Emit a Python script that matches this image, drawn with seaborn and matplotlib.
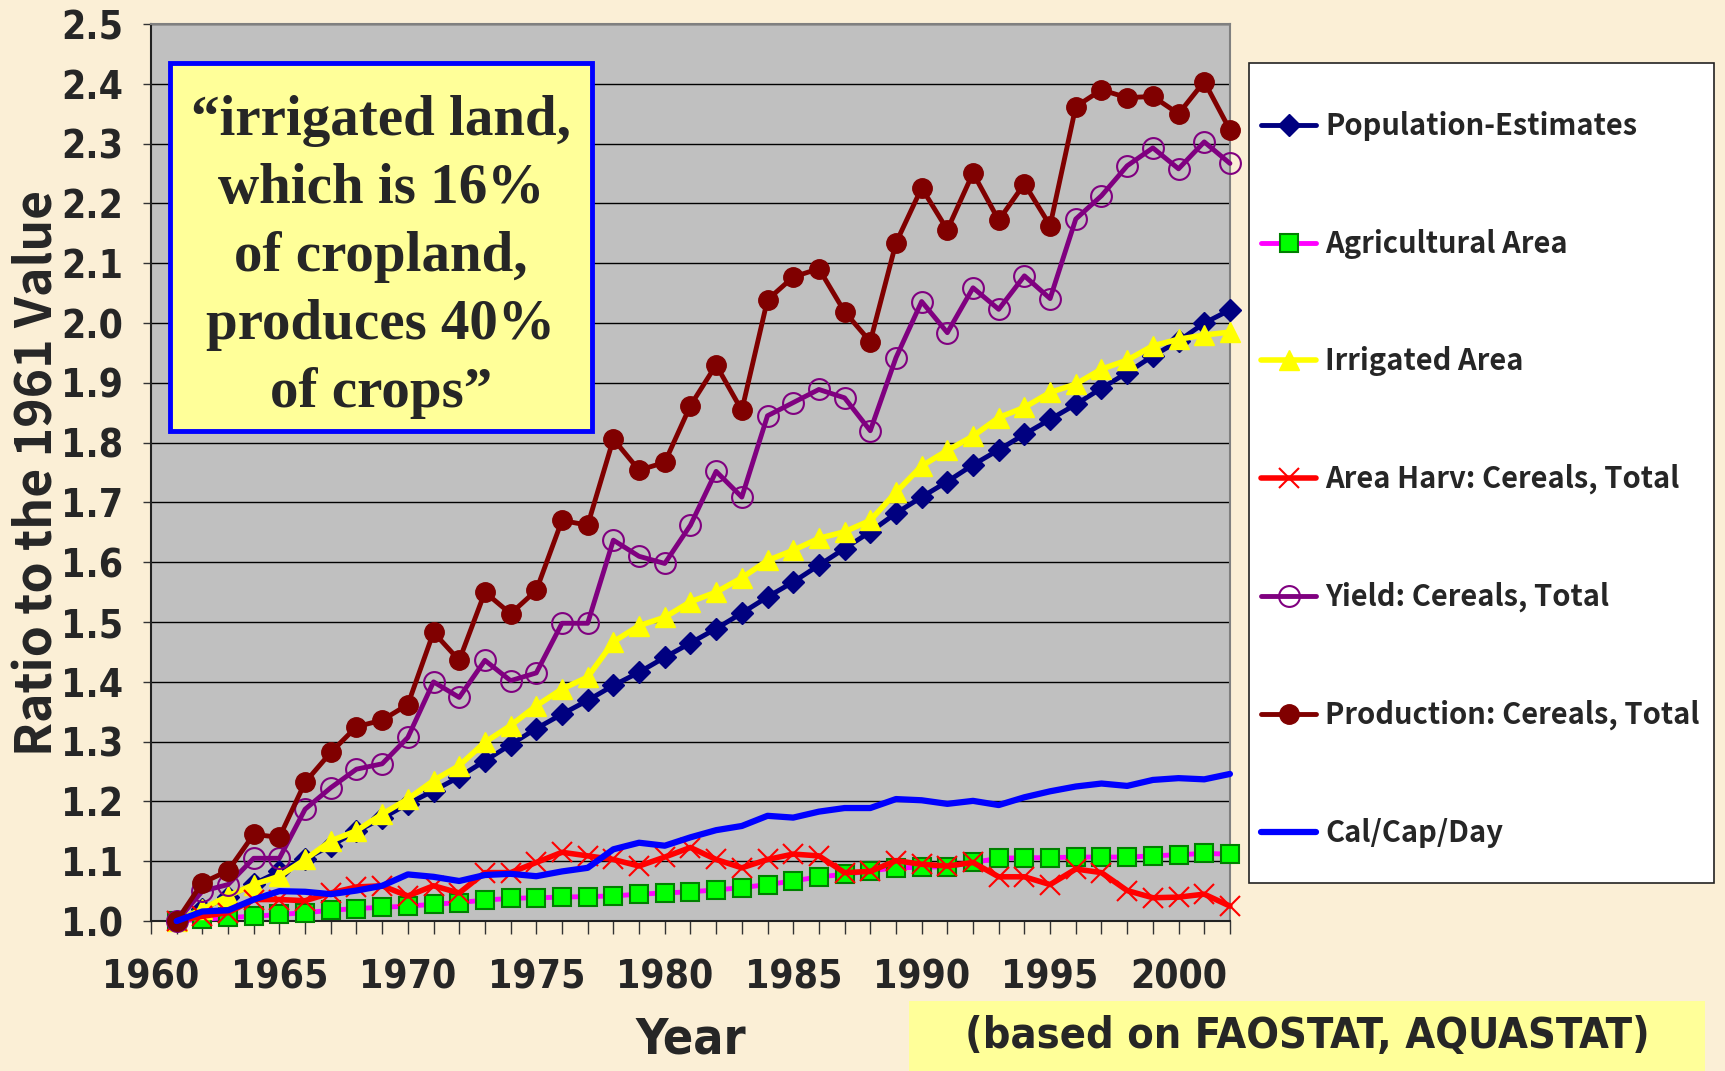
import numpy as np
import pandas as pd
import seaborn as sns
import matplotlib.pyplot as plt
from matplotlib.patches import Rectangle

# --- data (ratio to the 1961 value) ---
years = list(range(1961, 2003))

population = [1.000, 1.020, 1.041, 1.062, 1.083, 1.104, 1.126, 1.150, 1.172, 1.196,
              1.218, 1.241, 1.268, 1.295, 1.322, 1.346, 1.369, 1.394, 1.416, 1.441,
              1.465, 1.489, 1.515, 1.542, 1.567, 1.595, 1.623, 1.651, 1.682, 1.709,
              1.735, 1.763, 1.788, 1.814, 1.839, 1.864, 1.891, 1.917, 1.945, 1.970,
              2.000, 2.022]
agri_area = [1.000, 1.003, 1.006, 1.008, 1.011, 1.014, 1.018, 1.021, 1.023, 1.025,
             1.028, 1.031, 1.035, 1.038, 1.039, 1.040, 1.041, 1.042, 1.045, 1.047,
             1.049, 1.052, 1.056, 1.061, 1.067, 1.074, 1.078, 1.084, 1.089, 1.090,
             1.091, 1.098, 1.105, 1.106, 1.106, 1.107, 1.107, 1.107, 1.109, 1.111,
             1.113, 1.112]
irrigated = [1.000, 1.020, 1.042, 1.061, 1.075, 1.103, 1.134, 1.151, 1.179, 1.204,
             1.235, 1.260, 1.299, 1.327, 1.360, 1.388, 1.408, 1.467, 1.494, 1.508,
             1.534, 1.550, 1.574, 1.603, 1.620, 1.640, 1.651, 1.670, 1.717, 1.761,
             1.787, 1.811, 1.842, 1.859, 1.884, 1.898, 1.923, 1.938, 1.962, 1.973,
             1.980, 1.985]
area_harv = [1.000, 1.008, 1.014, 1.036, 1.036, 1.034, 1.047, 1.057, 1.059, 1.042,
             1.059, 1.047, 1.081, 1.081, 1.098, 1.115, 1.109, 1.103, 1.092, 1.107,
             1.123, 1.103, 1.089, 1.103, 1.112, 1.109, 1.081, 1.083, 1.101, 1.095,
             1.092, 1.098, 1.074, 1.074, 1.061, 1.087, 1.081, 1.051, 1.039, 1.040,
             1.045, 1.025]
yield_cereals = [1.000, 1.050, 1.061, 1.105, 1.105, 1.187, 1.223, 1.254, 1.263, 1.307,
                 1.400, 1.374, 1.436, 1.402, 1.415, 1.498, 1.498, 1.637, 1.610, 1.598,
                 1.662, 1.752, 1.709, 1.845, 1.867, 1.889, 1.875, 1.820, 1.942, 2.036,
                 1.984, 2.059, 2.023, 2.079, 2.041, 2.174, 2.213, 2.263, 2.293, 2.258,
                 2.303, 2.267]
production = [1.000, 1.064, 1.084, 1.145, 1.140, 1.232, 1.282, 1.325, 1.336, 1.362,
              1.483, 1.436, 1.550, 1.514, 1.553, 1.670, 1.662, 1.806, 1.754, 1.767,
              1.862, 1.930, 1.854, 2.039, 2.077, 2.091, 2.019, 1.969, 2.134, 2.226,
              2.156, 2.251, 2.172, 2.233, 2.163, 2.362, 2.390, 2.377, 2.379, 2.350,
              2.404, 2.323]
cal_cap_day = [1.000, 1.016, 1.018, 1.036, 1.050, 1.049, 1.045, 1.051, 1.059, 1.078,
               1.074, 1.067, 1.077, 1.079, 1.075, 1.083, 1.089, 1.120, 1.131, 1.126,
               1.140, 1.152, 1.159, 1.176, 1.173, 1.183, 1.189, 1.189, 1.204, 1.202,
               1.196, 1.201, 1.194, 1.207, 1.217, 1.225, 1.230, 1.226, 1.236, 1.239,
               1.237, 1.246]

series_names = ['Population-Estimates', 'Agricultural Area', 'Irrigated Area',
                'Area Harv: Cereals, Total', 'Yield: Cereals, Total',
                'Production: Cereals, Total', 'Cal/Cap/Day']
series_values = [population, agri_area, irrigated, area_harv,
                 yield_cereals, production, cal_cap_day]

df = pd.concat([pd.DataFrame({'Year': years, 'Ratio': v, 'Series': n})
                for n, v in zip(series_names, series_values)], ignore_index=True)

# --- styles per series ---
styles = {
    'Population-Estimates': dict(color='#000080', lw=3.5, marker='D', ms=11,
                                 mfc='#000080', mec='#000080'),
    'Agricultural Area': dict(color='#FF00FF', lw=3.5, marker='s', ms=13,
                              mfc='#00FF00', mec='#008000', mew=1.5),
    'Irrigated Area': dict(color='#FFFF00', lw=4, marker='^', ms=15,
                           mfc='#FFFF00', mec='#FFFF00'),
    'Area Harv: Cereals, Total': dict(color='#FF0000', lw=4, marker='x', ms=15,
                                      mec='#FF0000', mew=1.5),
    'Yield: Cereals, Total': dict(color='#800080', lw=3.5, marker='o', ms=15,
                                  mfc='none', mec='#800080', mew=1.5),
    'Production: Cereals, Total': dict(color='#800000', lw=3.5, marker='o', ms=14,
                                       mfc='#800000', mec='#800000'),
    'Cal/Cap/Day': dict(color='#0000FF', lw=4.5, marker=None),
}

sns.set_style('white')
bg = '#FBEFD6'
fig = plt.figure(figsize=(17.25, 10.71), dpi=100, facecolor=bg)
ax = fig.add_axes([0.0875, 0.140, 0.6255, 0.8375])
ax.set_facecolor('#C0C0C0')

for name in series_names:
    st = styles[name]
    sub = df[df['Series'] == name]
    sns.lineplot(data=sub, x='Year', y='Ratio', ax=ax, label=name,
                 color=st['color'], linewidth=st['lw'], marker=st['marker'],
                 markersize=st.get('ms', 0), markerfacecolor=st.get('mfc', st['color']),
                 markeredgecolor=st.get('mec', st['color']),
                 markeredgewidth=st.get('mew', 1), clip_on=False, zorder=3)

ax.set_xlim(1960, 2002)
ax.set_ylim(1.0, 2.5)
ax.set_yticks(np.arange(1.0, 2.51, 0.1))
ax.set_yticklabels([f'{v:.1f}' for v in np.arange(1.0, 2.51, 0.1)])
ax.set_xticks(range(1960, 2001, 5))
ax.set_xticks(range(1960, 2003), minor=True)
ax.grid(axis='y', color='black', lw=1)
ax.set_axisbelow(True)
ax.set_xlabel('')
ax.set_ylabel('')

narrow = ['DejaVu Sans', 'Liberation Sans']
ax.tick_params(axis='x', which='both', direction='out', length=9, width=1,
               color='#333333', bottom=True, pad=18)
ax.tick_params(axis='y', which='major', direction='out', length=6, width=1,
               color='#333333', left=True, pad=14)
for lab in ax.get_xticklabels() + ax.get_yticklabels():
    lab.set_fontfamily(narrow)
    lab.set_fontstretch('condensed')
    lab.set_fontweight('bold')
    lab.set_fontsize(28)

for s in ['left', 'bottom']:
    ax.spines[s].set_color('#222222')
    ax.spines[s].set_linewidth(1.5)
for s in ['top', 'right']:
    ax.spines[s].set_color('#808080')
    ax.spines[s].set_linewidth(1.5)

# legend: white box drawn separately, entries placed inside
fig.patches.append(Rectangle((0.724, 0.1755), 0.2696, 0.7656, transform=fig.transFigure,
                             facecolor='white', edgecolor='#222222', lw=1.2, figure=fig))
handles, labels = ax.get_legend_handles_labels()
ax.legend_.remove()
leg = fig.legend(handles, labels, loc='upper left', bbox_to_anchor=(0.731, 0.896),
                 frameon=False, handlelength=1.9, handletextpad=0.3, labelspacing=3.0,
                 borderpad=0, borderaxespad=0,
                 prop={'family': ['Noto Sans CJK JP', 'DejaVu Sans'],
                       'weight': 'bold', 'size': 21})

# quote box
ax.add_patch(Rectangle((0.0176, 0.546), 0.391, 0.4105, transform=ax.transAxes,
                       facecolor='#FFFF99', edgecolor='#0000FF', lw=3.5, zorder=5))
ax.text(0.213, 0.740,
        '\u201cirrigated land,\nwhich is 16%\nof cropland,\nproduces 40%\nof crops\u201d',
        transform=ax.transAxes, ha='center', va='center', zorder=6,
        family=['Liberation Serif', 'DejaVu Serif'], weight='bold', fontsize=41,
        linespacing=1.4)

# axis titles
fig.text(0.022, 0.558, 'Ratio to the 1961 Value', rotation=90, ha='center', va='center',
         family=['Noto Sans CJK JP', 'DejaVu Sans'], weight='bold', fontsize=36)
fig.text(0.4006, 0.029, 'Year', ha='center', va='center',
         family=narrow, stretch='condensed', weight='bold', fontsize=36)

# source box
fig.patches.append(Rectangle((0.527, 0.0), 0.4614, 0.0654, transform=fig.transFigure,
                             facecolor='#FFFF99', edgecolor='none', figure=fig))
fig.text(0.7577, 0.0327, '(based on FAOSTAT, AQUASTAT)', ha='center', va='center',
         family=narrow, stretch='condensed', weight='bold', fontsize=31)

plt.savefig('out.png', dpi=100, facecolor=bg)
